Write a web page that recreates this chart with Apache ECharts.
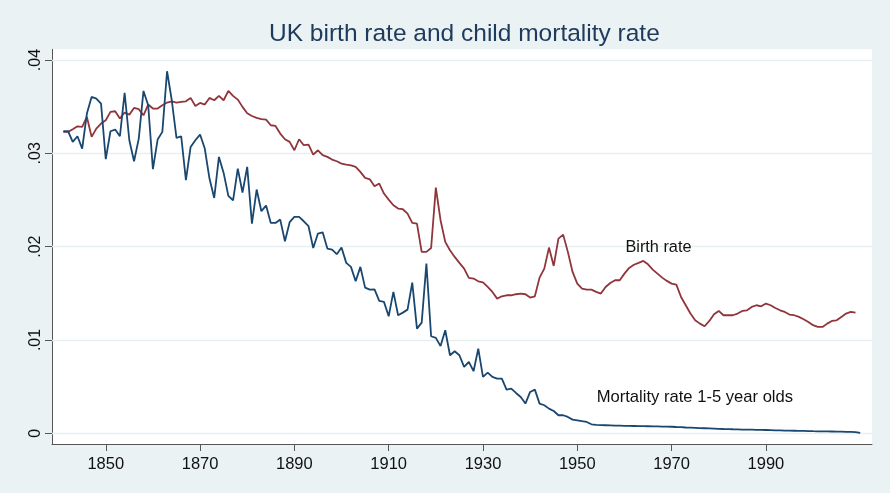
<!DOCTYPE html>
<html>
<head>
<meta charset="utf-8">
<script src="https://cdn.jsdelivr.net/npm/echarts@6/dist/echarts.min.js"></script>
<style>
html,body{margin:0;padding:0;background:#eaf2f3;}
#chart{width:890px;height:493px;}
</style>
</head>
<body>
<div id="chart"></div>
<script>
// ---- data ----
const birthFirstYear = 1841;
const birthRate = [
  0.0323, 0.0323, 0.03258, 0.0329, 0.03283, 0.0339, 0.03176, 0.03265, 0.03319, // 1841-1849
  0.03355, 0.03444, 0.03451, 0.03373, 0.03437, 0.03415, 0.03487, 0.03473, 0.03408, 0.03523, // 1850s
  0.0348, 0.0348, 0.03516, 0.03544, 0.03558, 0.03544, 0.03551, 0.03558, 0.03594, 0.03508, // 1860s
  0.0354, 0.03523, 0.03594, 0.03569, 0.03616, 0.03569, 0.03669, 0.03616, 0.03576, 0.03498, // 1870s
  0.0343, 0.034, 0.0338, 0.03366, 0.03362, 0.03301, 0.03294, 0.03212, 0.03151, 0.03123, // 1880s
  0.03033, 0.03151, 0.03087, 0.03094, 0.02987, 0.03033, 0.0298, 0.02962, 0.02933, 0.02915, // 1890s
  0.0289, 0.0288, 0.02872, 0.02855, 0.02801, 0.02737, 0.02722, 0.02647, 0.02676, 0.02569, // 1900s
  0.02504, 0.02444, 0.02408, 0.02401, 0.02354, 0.02254, 0.02247, 0.01944, 0.01944, 0.01985, // 1910s
  0.02633, 0.02283, 0.02051, 0.01961, 0.0189, 0.01826, 0.01765, 0.01665, 0.01658, 0.01629, // 1920s
  0.01618, 0.01568, 0.01515, 0.01443, 0.01468, 0.01479, 0.01479, 0.0149, 0.01497, 0.0149, // 1930s
  0.01454, 0.01468, 0.01668, 0.01765, 0.0199, 0.01793, 0.02086, 0.02129, 0.01944, 0.01729, // 1940s
  0.01604, 0.01551, 0.0154, 0.0154, 0.01515, 0.01497, 0.01568, 0.01611, 0.0164, 0.0164, // 1950s
  0.01711, 0.01772, 0.01806, 0.01826, 0.01847, 0.01811, 0.01754, 0.01711, 0.01668, 0.01633, // 1960s
  0.01604, 0.01593, 0.01461, 0.01372, 0.01283, 0.01211, 0.01175, 0.01147, 0.01204, 0.01275, // 1970s
  0.01311, 0.01265, 0.01265, 0.01265, 0.01283, 0.01311, 0.01318, 0.01354, 0.01372, 0.01361, // 1980s
  0.0139, 0.01372, 0.01343, 0.01318, 0.013, 0.01272, 0.01265, 0.01247, 0.01222, 0.01193, // 1990s
  0.01158, 0.0114, 0.0114, 0.01175, 0.01204, 0.01211, 0.01247, 0.01283, 0.013, 0.01293  // 2000-2009
];

const mortFirstYear = 1841;
const mortalityRate = [
  0.03237, 0.03237, 0.03123, 0.03183, 0.03051, 0.03426, 0.03605, 0.03587, 0.03533, // 1841-1849
  0.02937, 0.03237, 0.03255, 0.03183, 0.03648, 0.0314, 0.02915, 0.03158, 0.03669, 0.03516, // 1850s
  0.0283, 0.03148, 0.0323, 0.0388, 0.03569, 0.03165, 0.03183, 0.02712, 0.03069, 0.0314, // 1860s
  0.03201, 0.03051, 0.0273, 0.02522, 0.02962, 0.0279, 0.02544, 0.02497, 0.02837, 0.0258, // 1870s
  0.02855, 0.02247, 0.02612, 0.0238, 0.0244, 0.02254, 0.02254, 0.0229, 0.02058, 0.02262, // 1880s
  0.02319, 0.02319, 0.02272, 0.02219, 0.01986, 0.0214, 0.02154, 0.01979, 0.01969, 0.01919, // 1890s
  0.0199, 0.01826, 0.01783, 0.01629, 0.01783, 0.01561, 0.0154, 0.01543, 0.01418, 0.01408, // 1900s
  0.01254, 0.01515, 0.01265, 0.01293, 0.01325, 0.01615, 0.01122, 0.01186, 0.01818, 0.0104, // 1910s
  0.01022, 0.00934, 0.01104, 0.00836, 0.00879, 0.00836, 0.00711, 0.00765, 0.00665, 0.00907, // 1920s
  0.00604, 0.0065, 0.00604, 0.00586, 0.00586, 0.00468, 0.00479, 0.00432, 0.00389, 0.00318, // 1930s
  0.00443, 0.00468, 0.00318, 0.003, 0.00264, 0.00239, 0.00193, 0.00193, 0.00175, 0.00146, // 1940s
  0.00139, 0.00129, 0.00121, 0.00096, 0.0009, 0.00088, 0.00086, 0.00084, 0.00082, 0.00081, // 1950s
  0.0008, 0.00079, 0.00078, 0.00077, 0.00076, 0.00075, 0.00074, 0.00073, 0.00072, 0.00071, // 1960s
  0.0007, 0.00067, 0.00065, 0.00062, 0.0006, 0.00058, 0.00056, 0.00054, 0.00052, 0.0005, // 1970s
  0.00048, 0.00046, 0.00045, 0.00043, 0.00042, 0.0004, 0.00039, 0.00038, 0.00037, 0.00036, // 1980s
  0.00035, 0.00034, 0.00032, 0.00031, 0.00029, 0.00028, 0.00027, 0.00026, 0.00025, 0.00024, // 1990s
  0.00022, 0.00021, 0.0002, 0.0002, 0.00019, 0.00018, 0.00017, 0.00016, 0.00015, 0.00013, // 2000s
  0.00003 // 2010
];

const xTickValues = [1850, 1870, 1890, 1910, 1930, 1950, 1970, 1990];
const yTickValues = [0, 0.01, 0.02, 0.03, 0.04];
const yTickLabels = ['0', '.01', '.02', '.03', '.04'];
const titleText = 'UK birth rate and child mortality rate';
const birthLabel = 'Birth rate';
const mortLabel = 'Mortality rate 1-5 year olds';

// ---- build series points ----
const birthData = birthRate.map((v, i) => [birthFirstYear + i, v]);
const mortData = mortalityRate.map((v, i) => [mortFirstYear + i, v]);

const FONT = 'Liberation Sans, Arial, sans-serif';
const chart = echarts.init(document.getElementById('chart'), null, {renderer: 'canvas'});

chart.setOption({
  animation: false,
  backgroundColor: '#eaf2f3',
  title: {
    text: titleText,
    left: 264,
    top: 17,
    textStyle: {fontFamily: FONT, fontSize: 24.5, fontWeight: 'normal', color: '#1e3a5c'}
  },
  grid: {
    left: 52, right: 18, top: 49.3, bottom: 49,
    show: true, backgroundColor: '#ffffff', borderWidth: 0
  },
  xAxis: {
    type: 'value',
    min: 1838.6, max: 2012.5,
    axisLine: {show: true, onZero: false, lineStyle: {color: '#555555', width: 1}},
    axisTick: {show: true, length: 7, customValues: xTickValues, lineStyle: {color: '#555555'}},
    axisLabel: {
      customValues: xTickValues, margin: 12,
      fontFamily: FONT, fontSize: 16.5, color: '#111111',
      formatter: function (v) { return String(Math.round(v)); }
    },
    splitLine: {show: false}
  },
  yAxis: {
    type: 'value',
    min: -0.00115, max: 0.04115,
    axisLine: {show: true, lineStyle: {color: '#555555', width: 1}},
    axisTick: {show: true, length: 7, customValues: yTickValues, lineStyle: {color: '#555555'}},
    axisLabel: {
      customValues: yTickValues, rotate: 90, margin: 8,
      fontFamily: FONT, fontSize: 16, color: '#111111',
      formatter: function (v) {
        const idx = yTickValues.findIndex(t => Math.abs(t - v) < 1e-9);
        return idx >= 0 ? yTickLabels[idx] : '';
      }
    },
    splitLine: {show: false}
  },
  series: [
    {
      type: 'line', name: 'grid', data: [], z: 1, silent: true,
      markLine: {
        silent: true, z: 1, symbol: ['none', 'none'], animation: false,
        label: {show: false},
        lineStyle: {color: '#e6eff1', width: 1.3, type: 'solid'},
        data: yTickValues.map(v => ({yAxis: v}))
      }
    },
    {
      type: 'line', name: birthLabel, data: birthData, z: 3,
      showSymbol: false, symbol: 'none',
      lineStyle: {color: '#90353b', width: 1.8},
      itemStyle: {color: '#90353b'},
      markPoint: {
        silent: true, symbol: 'circle', symbolSize: 1,
        itemStyle: {color: 'rgba(0,0,0,0)'},
        label: {show: true, position: 'right', distance: 0, formatter: birthLabel,
                fontFamily: FONT, fontSize: 16.3, color: '#111111'},
        data: [{coord: [1960.1, 0.0199]}]
      }
    },
    {
      type: 'line', name: mortLabel, data: mortData, z: 4,
      showSymbol: false, symbol: 'none',
      lineStyle: {color: '#1a476f', width: 1.8},
      itemStyle: {color: '#1a476f'},
      markPoint: {
        silent: true, symbol: 'circle', symbolSize: 1,
        itemStyle: {color: 'rgba(0,0,0,0)'},
        label: {show: true, position: 'right', distance: 0, formatter: mortLabel,
                fontFamily: FONT, fontSize: 16.6, color: '#111111'},
        data: [{coord: [1954.0, 0.00389]}]
      }
    }
  ]
});
</script>
</body>
</html>
